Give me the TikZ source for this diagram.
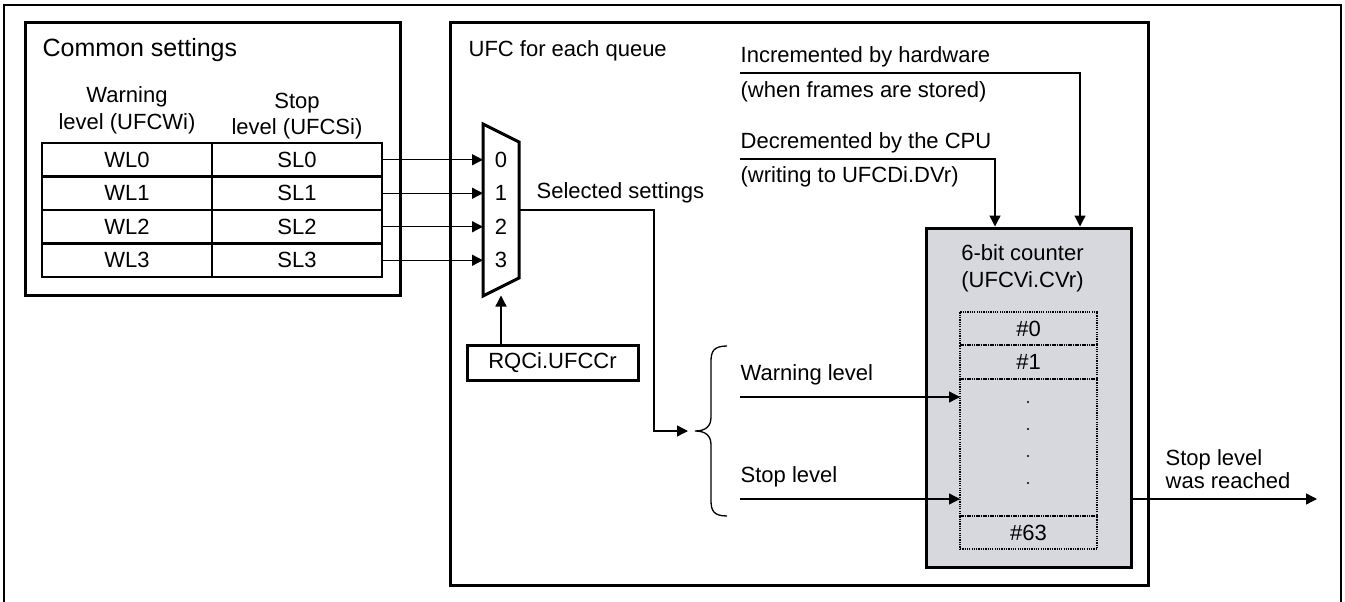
\documentclass[tikz,border=0pt]{standalone}
\usepackage{fontspec}
\setmainfont{Liberation Sans}
\usetikzlibrary{positioning,arrows.meta}
\definecolor{cntgray}{RGB}{214,216,221}

\begin{document}
\begin{tikzpicture}[x=1pt,y=-1pt,
  font=\fontsize{22}{27}\selectfont, >={Triangle[length=11pt,width=11pt]},
  line width=1.3pt,
  frame/.style={draw,line width=3pt},
  cell/.style={draw,line width=2.6pt,minimum width=170pt,minimum height=33.5pt,inner sep=0pt,outer sep=0pt},
  slot/.style={draw,line width=2pt,dash pattern=on 1.2pt off 1.1pt,minimum width=137pt,minimum height=33.5pt,inner sep=0pt,outer sep=0pt},
  lbl/.style={anchor=base west,inner sep=0pt},
  hd/.style={align=center,anchor=base,inner sep=0pt}
]
\useasboundingbox (0,0) rectangle (1345,602);
\draw[line width=2.2pt] (4,606) -- (4,5) -- (1341,5) -- (1341,606);

% common settings
\draw[frame] (25,23) rectangle (400,295);
\node[lbl,font=\fontsize{25}{30}\selectfont] (com) at (42,57) {Common settings};
\node[hd] (hwarn) at (127,129) {Warning\\level (UFCWi)};
\node[hd] (hstop) at (297,135) {Stop\\level (UFCSi)};

% selector
\draw[frame] (483,124) -- (519,142) -- (519,278) -- (483,296) -- cycle;
\coordinate (mxl) at (483,0);
\coordinate (mxo) at (519,210);
\foreach \i in {0,...,3}{
  \node[cell] (wl\i) at (127,159.75+33.5*\i) {WL\i};
  \node[cell,right=0pt of wl\i] (sl\i) {SL\i};
  \node (m\i) at (501,159.75+33.5*\i) {\i};
  \draw[->] (sl\i) -- (sl\i -| mxl);
}
\node[lbl] (selset) at (536,198) {Selected settings};
\node[frame,minimum width=171pt,minimum height=35pt,inner sep=0pt] (sel) at (552.5,362.5) {RQCi.UFCCr};
\draw[->] (sel.north -| m3) -- ++(0,-48);

% UFC for each queue
\draw[frame] (450,23) rectangle (1148,585);
\node[lbl] (ufc) at (468,57) {UFC for each queue};
\node[lbl] (inc) at (740,63) {Incremented by hardware};
\node[lbl] (incw) at (740,97) {(when frames are stored)};
\node[lbl] (dec) at (740,148) {Decremented by the CPU};
\node[lbl] (decw) at (740,182) {(writing to UFCDi.DVr)};
\coordinate (hwl) at (740,73);
\coordinate (cpul) at (740,159);

% counter
\node[frame,fill=cntgray,minimum width=205pt,minimum height=339pt] (cnt) at (1028.5,397.5) {};
\node[hd] (cntt) at (1022.5,287) {6-bit counter\\(UFCVi.CVr)};
\node[slot] (c0) at (1028.5,328.5) {\#0};
\node[slot,below=0pt of c0] (c1) {\#1};
\node[slot,below=0pt of c1,minimum height=137pt] (cd) {};
\node[slot,below=0pt of cd] (c63) {\#63};
\foreach \k in {0,...,3}
  \fill (1028,402+27*\k) circle (1.1pt);

\draw[->] (hwl) -| ([xshift=51.5pt]cnt.north);
\draw[->] (cpul) -| ([xshift=-33.5pt]cnt.north);

% selected settings
\coordinate (brin) at (688,431);
\draw[->] (mxo) -- ++(135,0) |- (brin);
\draw (727,346) .. controls (713,346) and (711,352) .. (711,362) -- (711,417)
  .. controls (711,426) and (706,431) .. (695,431)
  .. controls (706,431) and (711,436) .. (711,445) -- (711,500)
  .. controls (711,510) and (713,516) .. (727,516);
\node[lbl] (wlev) at (740,380) {Warning level};
\node[lbl] (slev) at (740,482) {Stop level};
\coordinate (wlv) at (740,397);
\coordinate (slv) at (740,499);
\draw[->] (wlv) -- (wlv -| cd.west);
\draw[->] (slv) -- (slv -| cd.west);

% output
\coordinate (out) at (1317,499);
\draw[->] (out -| cnt.east) -- (out);
\node[hd,anchor=base west,align=left,font=\fontsize{22}{23}\selectfont] (reach) at (1165,488) {Stop level\\was reached};
\end{tikzpicture}
\end{document}
